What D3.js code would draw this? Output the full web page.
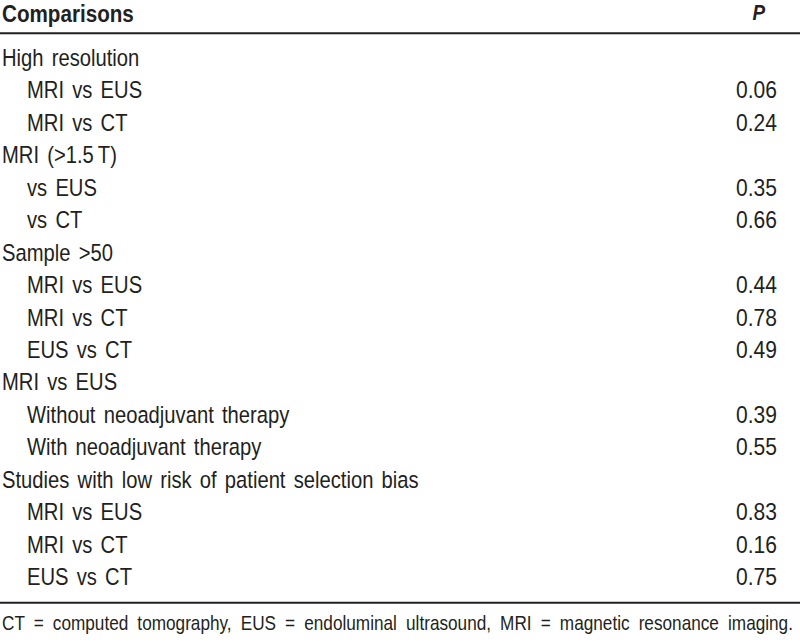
<!DOCTYPE html>
<html>
<head>
<meta charset="utf-8">
<script src="https://cdn.jsdelivr.net/npm/d3@7"></script>
<style>
  body { margin: 0; background: #fff; }
  text { font-family: "Liberation Sans", Arial, sans-serif; fill: #231f20; }
</style>
</head>
<body>
<svg id="chart" width="800" height="642"></svg>
<script>
// Table content
var labels = [
    "High resolution", "MRI vs EUS", "MRI vs CT",
    "MRI (>1.5\u2009T)", "vs EUS", "vs CT",
    "Sample >50", "MRI vs EUS", "MRI vs CT", "EUS vs CT",
    "MRI vs EUS", "Without neoadjuvant therapy", "With neoadjuvant therapy",
    "Studies with low risk of patient selection bias", "MRI vs EUS", "MRI vs CT", "EUS vs CT"
];
var indent = [0, 1, 1, 0, 1, 1, 0, 1, 1, 1, 0, 1, 1, 0, 1, 1, 1];
var pValues = ["", "0.06", "0.24", "", "0.35", "0.66", "", "0.44", "0.78", "0.49", "", "0.39", "0.55", "", "0.83", "0.16", "0.75"];
var footnote = "CT = computed tomography, EUS = endoluminal ultrasound, MRI = magnetic resonance imaging.";

var svg = d3.select("#chart");
var width = 800;
var squeeze = 0.86; // the source font is a condensed grotesque

// baseline of each row
var y = d3.scalePoint()
    .domain(d3.range(labels.length))
    .range([66, 585]);

function place(x, yy) {
    return "translate(" + x + "," + yy + ") scale(" + squeeze + ",1)";
}

// header
svg.append("text")
    .attr("transform", place(2, 22))
    .attr("font-size", 24)
    .attr("font-weight", "bold")
    .text("Comparisons");

svg.append("text")
    .attr("transform", place(765, 20))
    .attr("font-size", 22)
    .attr("font-weight", "bold")
    .attr("font-style", "italic")
    .attr("text-anchor", "end")
    .text("P");

// rules
svg.append("line")
    .attr("x1", 0).attr("x2", width)
    .attr("y1", 33.3).attr("y2", 33.3)
    .attr("stroke", "#231f20").attr("stroke-width", 2);

svg.append("line")
    .attr("x1", 0).attr("x2", width)
    .attr("y1", 602.8).attr("y2", 602.8)
    .attr("stroke", "#231f20").attr("stroke-width", 2);

var rows = svg.selectAll("g.row")
    .data(labels)
    .enter()
    .append("g")
    .attr("class", "row");

rows.append("text")
    .attr("transform", function(d, i) { return place(indent[i] ? 27 : 2, y(i)); })
    .attr("font-size", 23.5)
    .attr("word-spacing", 3)
    .text(function(d) { return d; });

rows.append("text")
    .attr("transform", function(d, i) { return place(777, y(i)); })
    .attr("font-size", 24.5)
    .attr("text-anchor", "end")
    .text(function(d, i) { return pValues[i]; });

svg.append("text")
    .attr("transform", place(2, 630))
    .attr("font-size", 20)
    .attr("word-spacing", 5)
    .text(footnote);
</script>
</body>
</html>
